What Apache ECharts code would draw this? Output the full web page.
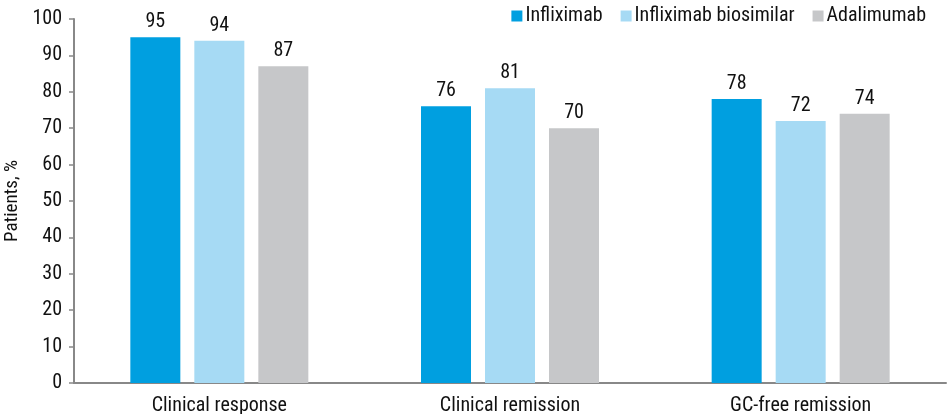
<!DOCTYPE html>
<html>
<head>
<meta charset="utf-8">
<script src="https://cdn.jsdelivr.net/npm/echarts@6/dist/echarts.min.js"></script>
<style>
html,body{margin:0;padding:0;background:#fff;}
#chart{width:951px;height:414px;}
</style>
</head>
<body>
<div id="chart"></div>
<script>
var categories = ['Clinical response', 'Clinical remission', 'GC-free remission'];
var infliximab = [95, 76, 78];
var biosimilar = [94, 81, 72];
var adalimumab = [87, 70, 74];
var seriesNames = ['Infliximab', 'Infliximab biosimilar', 'Adalimumab'];

var font = '"Liberation Sans Narrow", "Roboto Condensed", Roboto, sans-serif';

function makeSeries(name, data, color){
	return {
		name: name,
		type: 'bar',
		barWidth: 50,
		barGap: '28%',
		data: data,
		itemStyle: { color: color },
		label: {
			show: true,
			position: 'top',
			distance: 5,
			color: '#111',
			fontSize: 20,
			fontFamily: font
		}
	};
}

var chart = echarts.init(document.getElementById('chart'));
chart.setOption({
	animation: false,
	textStyle: { fontFamily: font },
	grid: { left: 74, right: 5, top: 19, bottom: 31, containLabel: false, outerBoundsMode: 'none' },
	legend: {
		right: 20,
		top: 1,
		itemWidth: 11,
		itemHeight: 11,
		itemGap: 18,
		icon: 'rect',
		textStyle: { fontSize: 20, color: '#111', fontFamily: font, padding: [0, 0, 0, -2] },
		data: seriesNames
	},
	xAxis: {
		type: 'category',
		data: categories,
		axisLine: { lineStyle: { color: '#888', width: 2 } },
		axisTick: { show: false },
		axisLabel: { color: '#111', fontSize: 20, margin: 13, fontFamily: font }
	},
	yAxis: {
		type: 'value',
		min: 0,
		max: 100,
		interval: 10,
		name: 'Patients, %',
		nameLocation: 'middle',
		nameGap: 52,
		nameTextStyle: { fontSize: 19, color: '#111', fontFamily: font },
		axisLine: { show: true, lineStyle: { color: '#888', width: 2 } },
		axisTick: { show: true, length: 5, lineStyle: { color: '#888', width: 1.5 } },
		axisLabel: { color: '#111', fontSize: 20, margin: 12, fontFamily: font },
		splitLine: { show: false }
	},
	series: [
		makeSeries(seriesNames[0], infliximab, '#009fe0'),
		makeSeries(seriesNames[1], biosimilar, '#a6daf4'),
		makeSeries(seriesNames[2], adalimumab, '#c6c7c9')
	]
});
</script>
</body>
</html>
